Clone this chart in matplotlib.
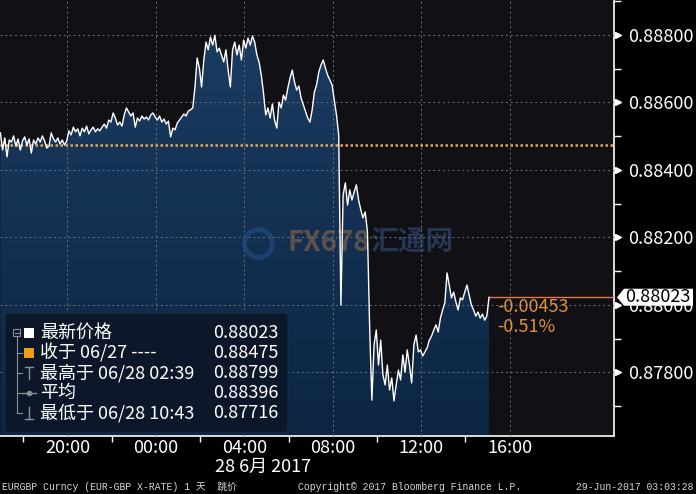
import numpy as np
import pandas as pd
import matplotlib
matplotlib.use("Agg")
import matplotlib.pyplot as plt
import matplotlib.dates as mdates
from matplotlib.patches import FancyBboxPatch, Polygon, Rectangle
from matplotlib.colors import LinearSegmentedColormap
from matplotlib.ticker import FixedLocator, MultipleLocator

plt.rcParams['font.family'] = ['Noto Sans CJK SC', 'DejaVu Sans']

# EURGBP, 6分钟取样, 2017-06-27 16:58 起
inicio = "2017-06-27 16:58"
precios = [
    0.88510, 0.88459, 0.88495, 0.88439, 0.88489, 0.88483, 0.88501, 0.88471, 0.88492, 0.88459,
    0.88486, 0.88498, 0.88474, 0.88492, 0.88450, 0.88489, 0.88477, 0.88495, 0.88483, 0.88501,
    0.88486, 0.88465, 0.88471, 0.88510, 0.88492, 0.88483, 0.88495, 0.88477, 0.88489, 0.88474,
    0.88486, 0.88516, 0.88504, 0.88527, 0.88513, 0.88522, 0.88501, 0.88524, 0.88513, 0.88530,
    0.88507, 0.88519, 0.88527, 0.88513, 0.88522, 0.88516, 0.88527, 0.88536, 0.88524, 0.88548,
    0.88542, 0.88569, 0.88554, 0.88533, 0.88542, 0.88530, 0.88563, 0.88584, 0.88572, 0.88560,
    0.88569, 0.88527, 0.88554, 0.88545, 0.88560, 0.88551, 0.88557, 0.88548, 0.88563, 0.88569,
    0.88557, 0.88548, 0.88560, 0.88542, 0.88551, 0.88536, 0.88545, 0.88498, 0.88524, 0.88519,
    0.88539, 0.88548, 0.88557, 0.88566, 0.88560, 0.88575, 0.88578, 0.88584, 0.88646, 0.88732,
    0.88702, 0.88646, 0.88726, 0.88779, 0.88756, 0.88794, 0.88770, 0.88799, 0.88750, 0.88761,
    0.88741, 0.88720, 0.88756, 0.88696, 0.88646, 0.88756, 0.88779, 0.88741, 0.88770, 0.88726,
    0.88785, 0.88761, 0.88791, 0.88770, 0.88797, 0.88779, 0.88741, 0.88720, 0.88681, 0.88628,
    0.88563, 0.88584, 0.88554, 0.88596, 0.88548, 0.88524, 0.88601, 0.88584, 0.88622, 0.88607,
    0.88643, 0.88673, 0.88696, 0.88661, 0.88637, 0.88649, 0.88613, 0.88593, 0.88572, 0.88554,
    0.88542, 0.88578, 0.88631, 0.88652, 0.88690, 0.88711, 0.88726, 0.88702, 0.88681, 0.88667,
    0.88652, 0.88607, 0.88563, 0.88504, 0.88000, 0.88326, 0.88362, 0.88296, 0.88341, 0.88311,
    0.88335, 0.88356, 0.88311, 0.88282, 0.88258, 0.88276, 0.88216, 0.87935, 0.87718, 0.87882,
    0.87926, 0.87822, 0.87896, 0.87793, 0.87763, 0.87822, 0.87748, 0.87784, 0.87716, 0.87763,
    0.87807, 0.87778, 0.87852, 0.87801, 0.87867, 0.87822, 0.87769, 0.87882, 0.87911, 0.87861,
    0.87867, 0.87849, 0.87861, 0.87873, 0.87896, 0.87908, 0.87926, 0.87941, 0.87920, 0.87961,
    0.87985, 0.88006, 0.88095, 0.88059, 0.88021, 0.88038, 0.88009, 0.87985, 0.88021, 0.88015,
    0.88038, 0.88059, 0.88030, 0.88000, 0.87985, 0.87967, 0.87979, 0.87961, 0.87973, 0.87955,
    0.87967, 0.88023,
]
tiempos = pd.date_range(inicio, periods=len(precios), freq="6min")

cierre_previo = 0.88475
ultimo = 0.88023
cambio = -0.00453
cambio_pct = -0.51

leyenda_txt = ["最新价格", "收于 06/27 ----", "最高于 06/28 02:39", "平均", "最低于 06/28 10:43"]
leyenda_val = [0.88023, 0.88475, 0.88799, 0.88396, 0.87716]

yticks = [0.878, 0.880, 0.882, 0.884, 0.886, 0.888]
xticks = pd.date_range("2017-06-27 20:00", "2017-06-28 16:00", freq="4h")
xticks_menores = pd.date_range("2017-06-27 18:00", "2017-06-28 14:00", freq="4h")
xmin, xmax = pd.Timestamp("2017-06-27 16:57"), pd.Timestamp("2017-06-28 20:43")
ymin, ymax = 0.876118, 0.889037

W, H = 696, 494
fig = plt.figure(figsize=(W / 100, H / 100), dpi=100, facecolor='black')
ax = fig.add_axes([0, 58 / H, 614 / W, 436 / H])
ax.set_facecolor('#101015')
ax.set_xlim(xmin, xmax)
ax.set_ylim(ymin, ymax)

# relleno con degradado
poly = ax.fill_between(tiempos, precios, ymin, facecolor='none', edgecolor='none')
cmap = LinearSegmentedColormap.from_list('navy', ['#0c2543', '#1c3d63'])
grad = np.linspace(0, 1, 256).reshape(-1, 1)
img = ax.imshow(grad, extent=[mdates.date2num(xmin), mdates.date2num(xmax), ymin, ymax],
                origin='lower', aspect='auto', cmap=cmap, zorder=1)
img.set_clip_path(poly.get_paths()[0], transform=ax.transData)

ax.plot(tiempos, precios, color='white', lw=1.0, zorder=4)

ax.axhline(cierre_previo, color='#e8a55a', lw=1.8, linestyle=(0, (1, 1)), zorder=3)
ax.hlines(ultimo, tiempos[-1], xmax, color='#e07b45', lw=1.0, zorder=3)

# marca de agua
ax.plot([0.42], [0.443], transform=ax.transAxes, marker='o', ms=20, mfc='none',
        mec='#2c5896', mew=3.5, alpha=0.45, zorder=3)
ax.text(0.469, 0.443, "FX678", transform=ax.transAxes, fontsize=20, fontweight='bold',
        color='#b87a42', alpha=0.45, va='center', zorder=3)
ax.text(0.603, 0.443, "汇通网", transform=ax.transAxes, fontsize=20, fontweight='bold',
        color='#3d5d90', alpha=0.5, va='center', zorder=3)

# ejes
ax.set_axisbelow(False)
ax.grid(True, which='major', color='#6a7080', lw=0.7, linestyle=(0, (2, 3)))
for s in ['top', 'left']:
    ax.spines[s].set_visible(False)
for s in ['right', 'bottom']:
    ax.spines[s].set_color('white')
    ax.spines[s].set_linewidth(1.2)

ax.yaxis.tick_right()
ax.yaxis.set_major_locator(FixedLocator(yticks))
ax.yaxis.set_minor_locator(MultipleLocator(0.001))
ax.yaxis.set_major_formatter(plt.FuncFormatter(lambda v, p: f"{v:.5f}"))
ax.tick_params(axis='y', which='major', length=0, pad=10, labelcolor='white', labelsize=13)
ax.tick_params(axis='y', which='minor', length=5, color='white', width=1)
ax.plot([1.0065] * len(yticks), yticks, transform=ax.get_yaxis_transform(), marker='>',
        ms=5, color='white', ls='none', clip_on=False, zorder=5)

ax.xaxis.set_major_locator(FixedLocator(mdates.date2num(xticks)))
ax.xaxis.set_minor_locator(FixedLocator(mdates.date2num(xticks_menores)))
ax.xaxis.set_major_formatter(mdates.DateFormatter('%H:%M'))
ax.tick_params(axis='x', which='major', length=0, pad=2, labelcolor='white', labelsize=13)
ax.tick_params(axis='x', which='minor', length=4, color='white', width=1)

# capa de anotaciones en pixeles
ov = fig.add_axes([0, 0, 1, 1], zorder=10)
ov.set_xlim(0, W)
ov.set_ylim(H, 0)
ov.axis('off')

fig.canvas.draw()
y_ult = H - ax.transData.transform((mdates.date2num(xmin), ultimo))[1]
ov.add_patch(Polygon([(617, y_ult), (624, y_ult - 8.5), (693, y_ult - 8.5),
                      (693, y_ult + 8.5), (624, y_ult + 8.5)], closed=True,
                     fc='white', ec='none'))
ov.text(658, y_ult, f"{ultimo:.5f}", color='black', fontsize=13, ha='center', va='center')

ov.text(497, 307, f"{cambio:.5f}", color='#e0903a', fontsize=13, ha='left', va='center')
ov.text(497, 327, f"{cambio_pct:.2f}%", color='#e0903a', fontsize=13, ha='left', va='center')

ov.text(215, 467, "28 6月 2017", color='white', fontsize=13, ha='left', va='center')

mono = ['Liberation Mono', 'Noto Sans CJK SC']
ov.text(2, 487, "EURGBP Curncy (EUR-GBP X-RATE) 1 天  跳价", family=mono, fontsize=7,
        color='#d8d8d8', ha='left', va='center')
ov.text(298, 487, "Copyright© 2017 Bloomberg Finance L.P.", family=mono, fontsize=7,
        color='#d8d8d8', ha='left', va='center')
ov.text(694, 487, "29-Jun-2017 03:03:28", family=mono, fontsize=7,
        color='#d8d8d8', ha='right', va='center')

# leyenda
ov.add_patch(FancyBboxPatch((5, 313), 283, 120, boxstyle='round,pad=0,rounding_size=4',
                            fc='#0c1829', ec='#1c2c44', lw=0.8))
gris = '#8a8f99'
ov.add_patch(Rectangle((13, 329), 7, 7, fc='none', ec=gris, lw=0.8))
ov.plot([14.5, 18.5], [332.5, 332.5], color=gris, lw=0.8)
ov.plot([16.5, 16.5], [336, 413], color=gris, lw=0.8)
for k in range(1, 5):
    ov.plot([16.5, 22], [333 + 20 * k, 333 + 20 * k], color=gris, lw=0.8)
ov.add_patch(Rectangle((24, 328), 10, 10, fc='white', ec='none'))
ov.add_patch(Rectangle((24, 348), 10, 10, fc='#f39c1c', ec='none'))
ov.plot([25, 33], [367, 367], color=gris, lw=1)
ov.plot([29, 29], [367, 379], color=gris, lw=1)
ov.plot([22, 36], [393, 393], color=gris, lw=1)
ov.plot([29], [393], marker='o', ms=3, color=gris)
ov.plot([29, 29], [407, 419], color=gris, lw=1)
ov.plot([25, 33], [419, 419], color=gris, lw=1)
for k, (t, v) in enumerate(zip(leyenda_txt, leyenda_val)):
    ov.text(40, 333 + 20 * k, t, color='white', fontsize=13, ha='left', va='center')
    ov.text(278, 333 + 20 * k, f"{v:.5f}", color='white', fontsize=13, ha='right', va='center')

fig.savefig("out.png", dpi=100, facecolor='black')
